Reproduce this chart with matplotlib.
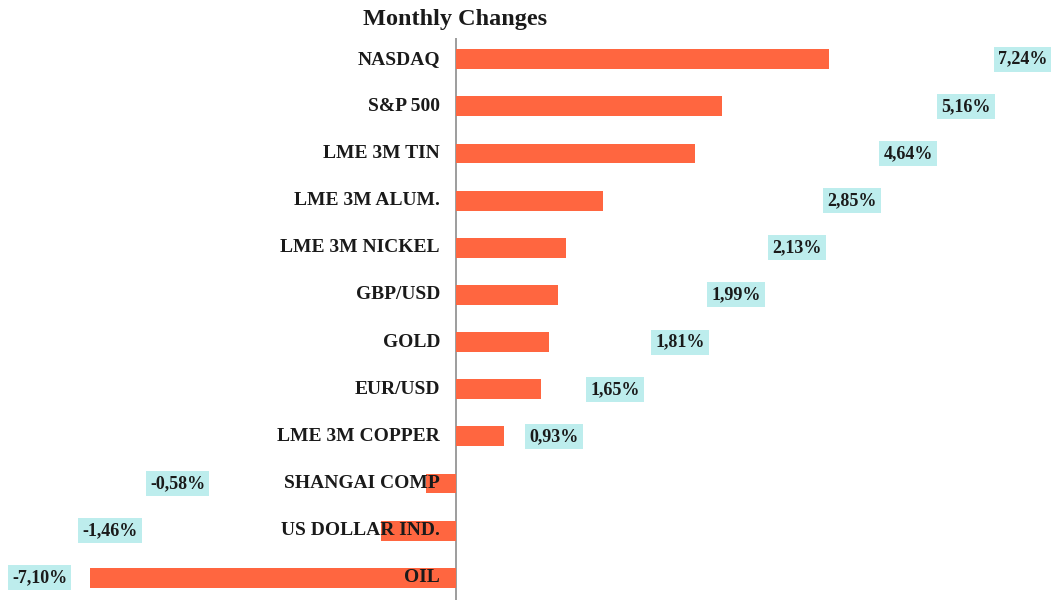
import matplotlib
matplotlib.use('Agg')
import matplotlib.pyplot as plt

categories = ['NASDAQ', 'S&P 500', 'LME 3M TIN', 'LME 3M ALUM.', 'LME 3M NICKEL',
              'GBP/USD', 'GOLD', 'EUR/USD', 'LME 3M COPPER', 'SHANGAI COMP',
              'US DOLLAR IND.', 'OIL']
changes = [7.24, 5.16, 4.64, 2.85, 2.13, 1.99, 1.81, 1.65, 0.93, -0.58, -1.46, -7.10]
value_labels = ['7,24%', '5,16%', '4,64%', '2,85%', '2,13%', '1,99%', '1,81%',
                '1,65%', '0,93%', '-0,58%', '-1,46%', '-7,10%']

# where the value boxes sit (x in data units), layout only
label_x = [11.0, 9.90, 8.78, 7.69, 6.62, 5.44, 4.35, 3.09, 1.90, -5.40, -6.72, -8.08]

plt.rcParams['font.family'] = ['Liberation Serif', 'DejaVu Serif']

fig = plt.figure(figsize=(10.54, 6), dpi=100)
ax = fig.add_axes([0, 0, 1, 1 - 38 / 600])

y = list(range(len(categories)))
ax.barh(y, changes, height=0.42, color='#FF6640', zorder=2)

ax.set_xlim(-456 / 51.5, (1054 - 456) / 51.5)
ax.set_ylim(11.47, -0.45)

for side in ['top', 'right', 'bottom', 'left']:
    ax.spines[side].set_visible(False)
ax.set_xticks([])
ax.set_yticks([])
ax.axvline(0, color='#8c8c8c', lw=1.2, zorder=1)

for i, name in enumerate(categories):
    ax.annotate(name, (0, i), xytext=(-16, 0), textcoords='offset pixels',
                ha='right', va='center', fontsize=14, fontweight='bold',
                color='#1a1a1a', zorder=4)
    ax.text(label_x[i], i, value_labels[i], ha='center', va='center',
            fontsize=13, fontweight='bold', color='#1a1a1a', zorder=4,
            bbox=dict(boxstyle='square,pad=0.22', facecolor='#BDEDED',
                      edgecolor='none'))

fig.text(455 / 1054, 1 - 19 / 600, 'Monthly Changes', ha='center', va='center',
         fontsize=17.5, fontweight='bold', color='#1a1a1a')

fig.savefig('out.png', dpi=100)
